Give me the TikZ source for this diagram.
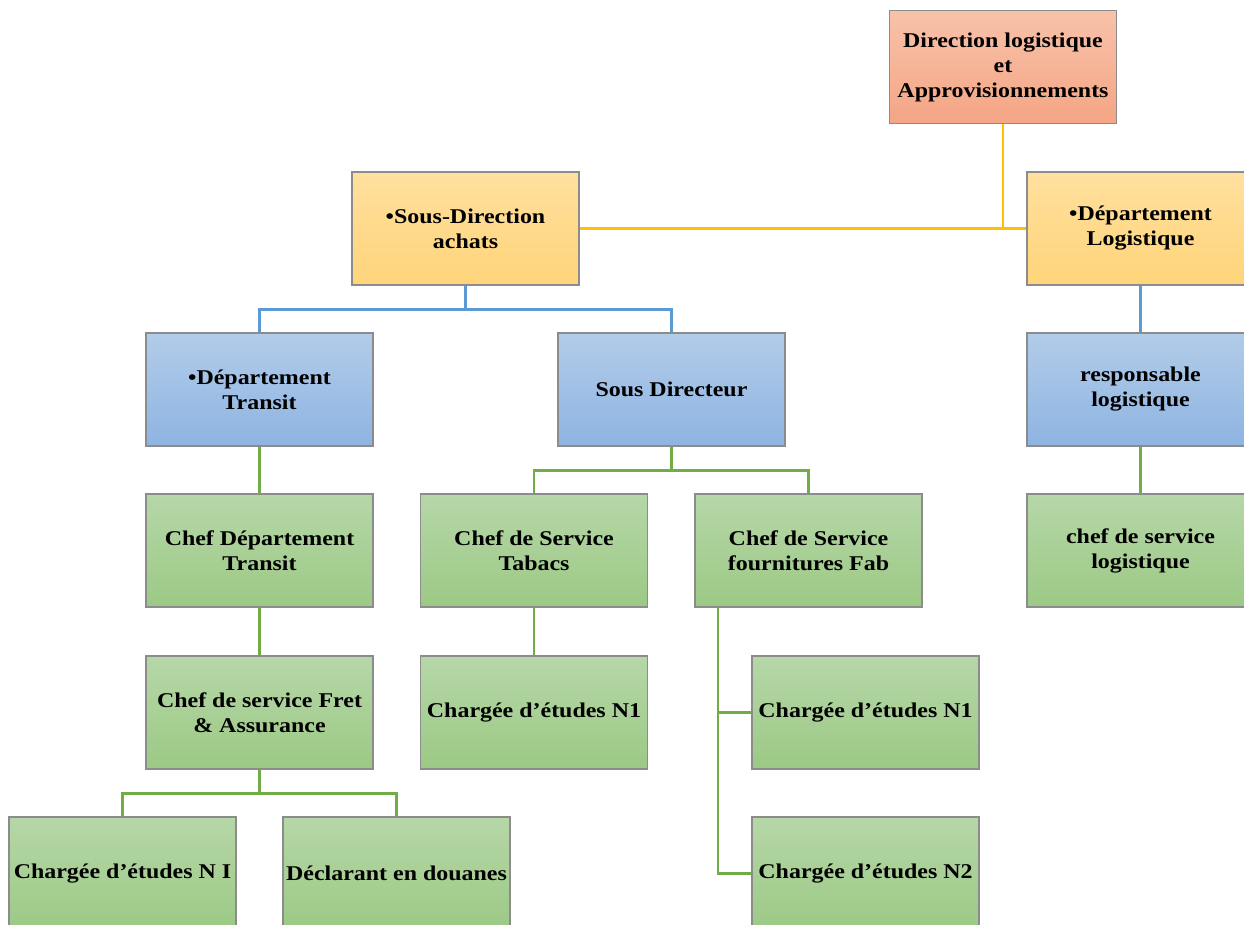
\documentclass[tikz,border=0pt]{standalone}
\usepackage{fontspec}
\setmainfont{Liberation Serif}[FakeStretch=1.14]
\usetikzlibrary{calc}
\definecolor{salmonTop}{HTML}{F8C2AA}
\definecolor{salmonBot}{HTML}{F4A584}
\definecolor{goldTop}{HTML}{FFE09E}
\definecolor{goldBot}{HTML}{FFD47A}
\definecolor{blueTop}{HTML}{B2CCE9}
\definecolor{blueBot}{HTML}{8EB4E2}
\definecolor{greenTop}{HTML}{B6D7A8}
\definecolor{greenBot}{HTML}{9CC985}
\definecolor{lineGold}{HTML}{FFC000}
\definecolor{lineBlue}{HTML}{5B9BD5}
\definecolor{lineGreen}{HTML}{70AD47}
\definecolor{boxEdge}{HTML}{8C8C8C}
\tikzset{
  box/.style={rectangle, draw=boxEdge, line width=1.3pt,
    minimum width=227pt, minimum height=113pt, inner sep=1pt,
    align=center, font=\fontsize{21}{25}\selectfont\bfseries},
  topbox/.style={box, top color=salmonTop, bottom color=salmonBot},
  goldbox/.style={box, top color=goldTop, bottom color=goldBot},
  bluebox/.style={box, top color=blueTop, bottom color=blueBot},
  greenbox/.style={box, top color=greenTop, bottom color=greenBot},
  goldline/.style={draw=lineGold, line width=2.4pt},
  blueline/.style={draw=lineBlue, line width=2.4pt},
  greenline/.style={draw=lineGreen, line width=2.4pt},
}
\begin{document}
\begin{tikzpicture}[x=1pt,y=-1pt]
\useasboundingbox (0,0) rectangle (1244,925);
\fill[white] (0,0) rectangle (1244,925);
\clip (0,0) rectangle (1244,925);

% boxes
\node[topbox]   (dir)   at (1003,67)    {Direction logistique\\et\\Approvisionnements};
\node[goldbox]  (sda)   at (465.5,228.5) {•Sous-Direction\\achats};
\node[goldbox]  (dlog)  at (1140.5,228.5) {•Département\\Logistique};
\node[bluebox]  (dtr)   at (259.5,389.5) {•Département\\Transit};
\node[bluebox]  (sdir)  at (671.5,389.5) {Sous Directeur};
\node[bluebox]  (rlog)  at (1140.5,389.5) {responsable\\logistique};
\node[greenbox] (cdt)   at (259.5,550.5) {Chef Département\\Transit};
\node[greenbox] (ctab)  at (534,550.5)   {Chef de Service\\Tabacs};
\node[greenbox] (cfour) at (808.5,550.5) {Chef de Service\\fournitures Fab};
\node[greenbox] (cslog) at (1140.5,550.5) {chef de service\\logistique};
\node[greenbox] (fret)  at (259.5,712.5) {Chef de service Fret\\\& Assurance};
\node[greenbox] (ce1)   at (534,712.5)   {Chargée d’études N1};
\node[greenbox] (ce1b)  at (865.5,712.5) {Chargée d’études N1};
\node[greenbox] (ceni)  at (122.5,873.5) {Chargée d’études N I};
\node[greenbox] (decl)  at (396.5,873.5) {Déclarant en douanes};
\node[greenbox] (ce2)   at (865.5,873.5) {Chargée d’études N2};

% level 1: direction to its two branches
\draw[goldline] (dir.south) |- (dlog.west);
\draw[goldline] (sda.east) -- (dlog.west);

% level 2
\draw[blueline] (sda.south) -- ++(0,24) coordinate (bsplit) -| (dtr.north);
\draw[blueline] (bsplit) -| (sdir.north);
\draw[blueline] (dlog.south) -- (rlog.north);

% level 3 and below
\draw[greenline] (dtr.south) -- (cdt.north);
\draw[greenline] (cdt.south) -- (fret.north);
\draw[greenline] (sdir.south) -- ++(0,24) coordinate (gsplit) -| (ctab.north);
\draw[greenline] (gsplit) -| (cfour.north);
\draw[greenline] (ctab.south) -- (ce1.north);
\draw[greenline] (rlog.south) -- (cslog.north);
\draw[greenline] (fret.south) -- ++(0,24) coordinate (fsplit) -| (ceni.north);
\draw[greenline] (fsplit) -| (decl.north);
\coordinate (fourL) at ([xshift=23.5pt]cfour.south west);
\draw[greenline] (fourL) |- (ce1b.west);
\draw[greenline] (fourL) |- (ce2.west);
\end{tikzpicture}
\end{document}
